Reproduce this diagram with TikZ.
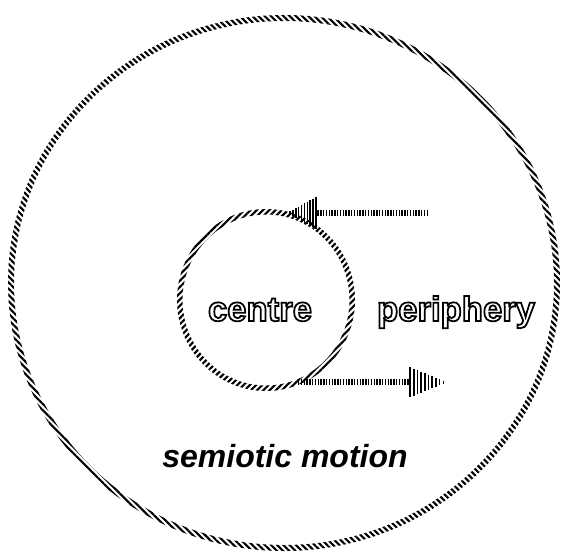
\documentclass[tikz,border=0pt]{standalone}
\usepackage{fontspec}
\setmainfont{Liberation Sans}
\usepackage{tikz}
\usetikzlibrary{patterns.meta,calc}
% hollow letters: white fill, black stroke
\newcommand\hollow[1]{{\color{white}\special{pdf:literal direct 2 Tr 1.3 w 0 G}#1\special{pdf:literal direct 0 Tr}}}
% striped arrow head: base, tip, half height
\newcommand\barhead[3]{%
  \foreach \k in {0,...,9}{
    \draw[line width=1.2pt] ($(#1)!\k/10!(#2)$) ++(0,{#3*(1-\k/10)}) -- ++(0,{-2*#3*(1-\k/10)});
  }}
\tikzset{
	ring/.style = {even odd rule, pattern={Lines[angle=#1, distance=3.3pt, line width=1.6pt]}},
	shaft/.style = {line width=4.5pt, dash pattern=on 1pt off 1.1pt},
	hollow label/.style = {font=\fontsize{26}{30}\selectfont\bfseries, inner sep=0pt, anchor=base},
	title/.style = {font=\fontsize{24}{28}\selectfont\bfseries\itshape, inner sep=0pt, anchor=base},
}
\begin{document}
\begin{tikzpicture}[x=0.75pt,y=0.75pt]
	\useasboundingbox (0,0) rectangle (563,554);
	\coordinate (world) at (284,271);
	\coordinate (core) at (266,254);
	\fill[ring=-45] (world) ellipse [x radius=276, y radius=268] (world) ellipse [x radius=270, y radius=262];
	\fill[ring=45] (core) ellipse [x radius=89, y radius=91] (core) ellipse [x radius=83.5, y radius=85.5];
	% inward arrow
	\coordinate (inTail) at (428,341);
	\coordinate (inBase) at (316,341);
	\coordinate (inTip) at (287,341);
	\draw[shaft] (inTail) -- (inBase);
	\barhead{inBase}{inTip}{16}
	% outward arrow
	\coordinate (outTail) at (298,172);
	\coordinate (outBase) at (410,172);
	\coordinate (outTip) at (447,172);
	\draw[shaft] (outTail) -- (outBase);
	\barhead{outBase}{outTip}{15}
	\node[hollow label] (centre) at (260,233) {\hollow{centre}};
	\node[hollow label] (periphery) at (456,233) {\hollow{periphery}};
	\node[title] (motion) at (285,87) {semiotic motion};
\end{tikzpicture}
\end{document}
